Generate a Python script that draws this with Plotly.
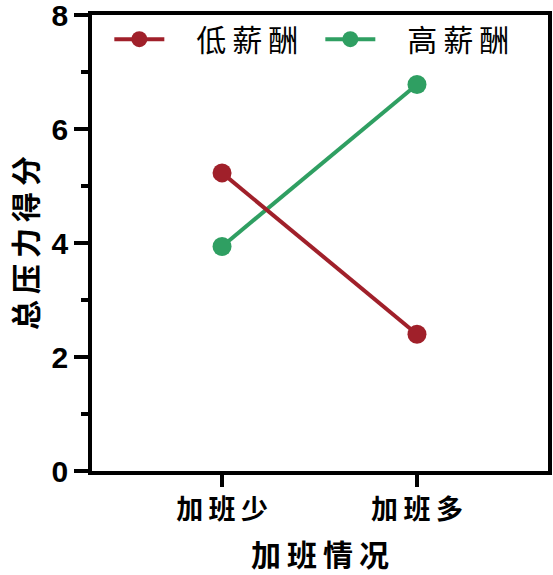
import plotly.graph_objects as go

# data
overtime = ["加班少", "加班多"]
low_pay = [5.23, 2.40]
high_pay = [3.94, 6.78]
y_ticks = [0, 2, 4, 6, 8]

RED = "#A0202A"
GREEN = "#2F9F62"
CJK = "Noto Sans CJK SC"
SP = "\u2009"
LEAD = "\u00a0" * 4


def spaced(s):
    return SP.join(s)


fig = go.Figure()
# green first so the red line sits on top, legend order fixed with legendrank
fig.add_trace(go.Scatter(
    x=overtime, y=high_pay, name=LEAD + spaced("高薪酬"), mode="lines+markers",
    line=dict(color=GREEN, width=4), marker=dict(size=19, color=GREEN),
    legendrank=2,
))
fig.add_trace(go.Scatter(
    x=overtime, y=low_pay, name=LEAD + spaced("低薪酬"), mode="lines+markers",
    line=dict(color=RED, width=4), marker=dict(size=19, color=RED),
    legendrank=1,
))

fig.update_layout(
    width=553, height=575,
    margin=dict(l=92, r=5, t=15, b=104),
    plot_bgcolor="white", paper_bgcolor="white",
    showlegend=True,
    legend=dict(
        orientation="h", x=0.038, y=0.947, xanchor="left", yanchor="middle",
        font=dict(family=CJK, size=30, color="black"),
        itemwidth=50, entrywidth=146, entrywidthmode="pixels",
        bgcolor="rgba(0,0,0,0)", traceorder="normal",
    ),
)

fig.update_xaxes(
    type="category", range=[-0.667, 1.672], automargin=False,
    tickvals=overtime, ticktext=[spaced(c) for c in overtime],
    showline=True, linecolor="black", linewidth=3.5, mirror=True,
    ticks="outside", ticklen=12, tickwidth=3.5, tickcolor="black",
    tickfont=dict(family=CJK, size=27, color="black", weight="bold"),
    showgrid=False, zeroline=False,
    title=dict(text=spaced("加班情况"), standoff=28,
               font=dict(family=CJK, size=30, color="black", weight="bold")),
)

fig.update_yaxes(
    range=[0, 8], tickvals=y_ticks, automargin=False, ticklabeloverflow="allow",
    showline=True, linecolor="black", linewidth=3.5, mirror=True,
    ticks="outside", ticklen=14, tickwidth=3.5, tickcolor="black",
    minor=dict(ticks="outside", ticklen=7, tickwidth=3.5, tickcolor="black", dtick=1, showgrid=False),
    tickfont=dict(family="Liberation Sans", size=30, color="black", weight="bold"),
    showgrid=False, zeroline=False,
    title=dict(text=spaced("总压力得分"), standoff=6,
               font=dict(family=CJK, size=30, color="black", weight="bold")),
)

# drop the default body margin so the figure sits at the window corner
fig.write_html(
    "out.html",
    config={"displayModeBar": False},
    post_script="document.body.style.margin='0';",
)
